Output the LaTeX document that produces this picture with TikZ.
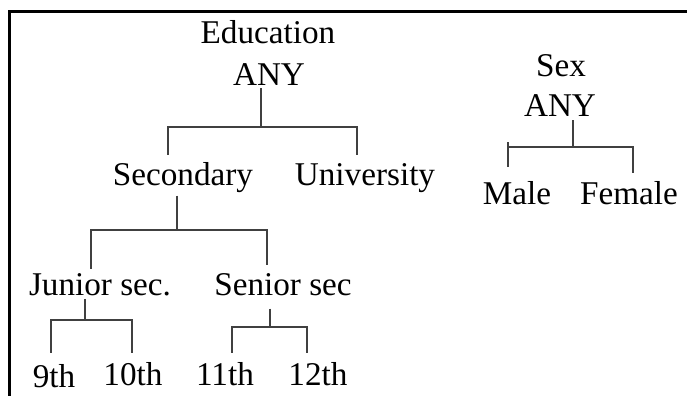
\documentclass[tikz,border=0pt]{standalone}
\usepackage{fontspec}
\setmainfont{Liberation Serif}
\usetikzlibrary{positioning,calc}
\tikzset{
  lbl/.style={font=\fontsize{16.6}{20}\selectfont, inner sep=1.5pt, text height=13.5pt, anchor=base},
  branch/.style={line width=1pt, draw=black!75},
  frame/.style={line width=1.5pt, draw=black}
}
% parent, left child, right child, bar y, stem shift, left shift, right shift
\newcommand{\fork}[7]{%
  \path ($(#1.south)+(#5)$) coordinate (#1-s);
  \coordinate (#1-b) at (0,#4);
  \coordinate (#1-j) at (#1-s |- #1-b);
  \draw[branch] (#1-s) -- (#1-j);
  \draw[branch] ($(#2.north)+(#6)$) |- (#1-j) -| ($(#3.north)+(#7)$);
}

\begin{document}
\begin{tikzpicture}[x=0.5pt, y=-0.5pt]
            \useasboundingbox (0,0) rectangle (687,396);
            \draw[frame] (687,11) -- (9,11) -- (9,396);

            % education hierarchy
            \draw node (eduE) at (268,43) [lbl] {Education};
            \draw node (anyE) at (269,85) [lbl] {ANY};
            \draw node (sec) at (183,185) [lbl] {Secondary};
            \draw node (uni) at (365,185) [lbl] {University};
            \draw node (jun) at (100,295) [lbl] {Junior sec.};
            \draw node (sen) at (283,295) [lbl] {Senior sec};
            \draw node (n9) at (54,387) [lbl] {9th};
            \draw node (n10) at (133,385) [lbl] {10th};
            \draw node (n11) at (225,385) [lbl] {11th};
            \draw node (n12) at (318,385) [lbl] {12th};

            \fork{anyE}{sec}{uni}{127}{-8,0}{-15,0}{-8,0}
            \fork{sec}{jun}{sen}{230}{-6,0}{-9,4}{-16,0}
            \fork{jun}{n9}{n10}{320}{-15,0}{-3,-4}{-1,-2}
            \fork{sen}{n11}{n12}{327}{-13,10}{7,-2}{-11,-2}

            % sex hierarchy
            \draw node (sexS) at (561,76) [lbl] {Sex};
            \draw node (sexA) at (560,117) [lbl] {ANY};
            \draw node (male) at (517,205) [lbl] {Male};
            \draw node (female) at (629,205) [lbl] {Female};

            \fork{sexA}{male}{female}{147}{13,0}{-9,-8}{4,-2}
            \coordinate (tick) at ($(male.north)+(-9,0)$);
            \draw[branch] (tick |- sexA-b) -- ++(0,-5);
        \end{tikzpicture}
\end{document}
